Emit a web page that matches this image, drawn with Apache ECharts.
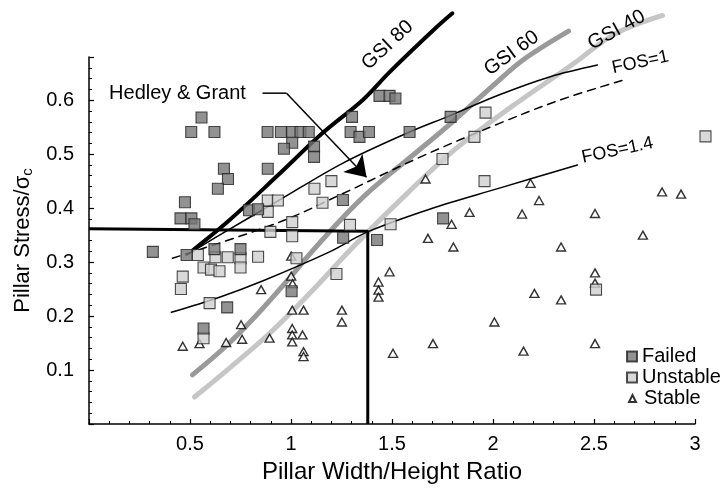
<!DOCTYPE html>
<html><head><meta charset="utf-8">
<script src="https://cdn.jsdelivr.net/npm/echarts/dist/echarts.min.js"></script>
<style>html,body{margin:0;padding:0;background:#fff}#c{width:725px;height:493px}</style>
</head><body><div id="c"></div>
<script>
// ---- data ----
const xTickValues = [0.5, 1, 1.5, 2, 2.5, 3];
const yTickValues = [0.1, 0.2, 0.3, 0.4, 0.5, 0.6];

const failed = [
  [0.316,0.319],[0.483,0.313],[0.621,0.324],[0.750,0.324],[0.475,0.411],[0.453,0.381],[0.507,0.381],[0.522,0.370],
  [0.557,0.568],[0.506,0.541],[0.621,0.541],[0.668,0.473],[0.688,0.454],[0.638,0.436],[0.884,0.541],[0.950,0.541],
  [1.006,0.541],[1.047,0.541],[1.088,0.541],[1.006,0.521],[0.965,0.510],[1.114,0.514],[1.114,0.495],[0.885,0.473],
  [0.792,0.396],[0.837,0.398],[1.257,0.415],[1.302,0.569],[1.295,0.541],[1.339,0.532],[1.386,0.541],[1.438,0.608],
  [1.488,0.608],[1.517,0.603],[1.587,0.541],[1.790,0.569],[1.258,0.345],[1.426,0.341],[1.753,0.381],[0.684,0.216],
  [0.567,0.177],[1.003,0.246]
];
const unstable = [
  [0.539,0.313],[0.626,0.309],[0.687,0.309],[0.750,0.307],[0.837,0.310],[0.567,0.290],[0.604,0.286],[0.646,0.283],
  [0.750,0.290],[0.464,0.273],[0.455,0.250],[0.597,0.224],[0.567,0.159],[0.885,0.414],[0.935,0.414],[0.885,0.393],
  [1.116,0.436],[1.200,0.450],[1.156,0.410],[1.006,0.374],[1.006,0.348],[0.898,0.356],[1.027,0.307],[1.225,0.278],
  [1.292,0.369],[1.493,0.370],[1.750,0.491],[1.963,0.577],[1.908,0.532],[1.958,0.450],[3.052,0.533],[2.510,0.249]
];
const stable = [
  [0.464,0.144],[0.547,0.149],[0.679,0.151],[0.753,0.184],[0.758,0.157],[0.894,0.159],[0.852,0.249],[1.001,0.311],
  [1.001,0.274],[1.008,0.260],[1.006,0.211],[1.062,0.211],[1.006,0.177],[1.006,0.165],[1.006,0.152],[1.057,0.165],
  [1.062,0.134],[1.062,0.125],[1.252,0.211],[1.252,0.189],[1.433,0.263],[1.433,0.248],[1.433,0.235],[1.488,0.282],
  [1.505,0.131],[1.666,0.454],[1.678,0.344],[1.795,0.370],[1.804,0.328],[1.884,0.392],[1.703,0.149],[2.007,0.189],
  [2.144,0.389],[2.186,0.446],[2.228,0.414],[2.151,0.135],[2.205,0.242],[2.337,0.328],[2.337,0.230],[2.505,0.390],
  [2.505,0.280],[2.505,0.261],[2.505,0.149],[2.742,0.350],[2.837,0.430],[2.931,0.426]
];

const gsi80 = [[0.514,0.322],[0.696,0.378],[0.927,0.458],[1.156,0.539],[1.354,0.600],[1.488,0.652],[1.720,0.735],[1.799,0.761]];
const gsi60 = [[0.512,0.091],[0.68,0.145],[0.83,0.202],[0.98,0.265],[1.10,0.318],[1.25,0.380],[1.40,0.435],[1.60,0.497],[1.80,0.560],[2.00,0.627],[2.15,0.675],[2.374,0.728]];
const gsi40 = [[0.522,0.050],[0.70,0.105],[0.90,0.170],[1.10,0.245],[1.30,0.325],[1.50,0.400],[1.80,0.505],[2.10,0.590],[2.40,0.668],[2.60,0.722],[2.839,0.757]];
const fos1 = [[0.483,0.313],[0.646,0.350],[0.943,0.415],[1.255,0.483],[1.587,0.541],[1.785,0.571],[2.032,0.610],[2.280,0.643],[2.517,0.665]];
const fosDashed = [[0.413,0.307],[0.943,0.374],[1.240,0.424],[1.636,0.494],[2.032,0.557],[2.329,0.600],[2.661,0.639]];
const fos14 = [[0.408,0.207],[0.646,0.235],[0.859,0.265],[1.191,0.319],[1.379,0.356],[1.686,0.398],[2.032,0.437],[2.418,0.480]];
const limitLine = [[0,0.362],[1.38,0.357],[1.38,0]];
const hedleyLeader = [[0.859,0.613],[0.978,0.613]];
const hedleyArrow = [[0.978,0.613],[1.374,0.457]];

const annotationTexts = ['GSI 80','GSI 60','GSI 40','FOS=1','FOS=1.4','Hedley & Grant'];
const annotationAnchors = [[1.478,0.702],[2.092,0.687],[2.612,0.730],[2.730,0.670],[2.616,0.507],[0.438,0.613]];
const annotationAngles = [43,36,29,12,12,0];
const annotationSizes = [20,20,20,18,18,20];

// ---- chart ----
const FONT = '"Liberation Sans", Arial, Helvetica, sans-serif';
const chart = echarts.init(document.getElementById('c'), null, {renderer:'canvas'});

function curve(name, data, color, width, type, z) {
  return {type:'line', name, data, smooth:0.35, showSymbol:false, symbol:'none', clip:false, z,
    lineStyle:{color, width, type: type || 'solid', cap:'round'}, silent:true, legendHoverLink:false};
}

const option = {
  animation:false,
  backgroundColor:'#fff',
  textStyle:{fontFamily:FONT, color:'#000'},
  grid:{left:89, right:30, top:57, bottom:69},
  xAxis:{type:'value', min:0, max:3, interval:0.5,
    name:'Pillar Width/Height Ratio', nameLocation:'middle', nameGap:36,
    nameTextStyle:{fontSize:24, color:'#000', fontFamily:FONT},
    axisLine:{show:true, lineStyle:{color:'#000', width:1.5}},
    axisTick:{show:true, inside:true, length:5, lineStyle:{color:'#000', width:1.2}},
    minorTick:{show:true, splitNumber:5, length:3, lineStyle:{color:'#000', width:1}},
    splitLine:{show:false}, minorSplitLine:{show:false},
    axisLabel:{fontSize:20, color:'#000', margin:10, fontFamily:FONT,
      formatter:v => xTickValues.some(t => Math.abs(t-v)<1e-6) ? String(+v.toFixed(1)) : ''}
  },
  yAxis:{type:'value', min:0, max:0.68, interval:0.1,
    name:'{a|Pillar Stress/σ}{b|c}', nameLocation:'middle', nameGap:52, nameRotate:90,
    nameTextStyle:{color:'#000', fontFamily:FONT,
      rich:{a:{fontSize:22, fontFamily:FONT, color:'#000'}, b:{fontSize:15, fontFamily:FONT, color:'#000', padding:[9,0,0,0]}}},
    axisLine:{show:true, lineStyle:{color:'#000', width:1.5}},
    axisTick:{show:true, inside:true, length:5, lineStyle:{color:'#000', width:1.2}},
    minorTick:{show:true, splitNumber:5, length:3, lineStyle:{color:'#000', width:1}},
    splitLine:{show:false}, minorSplitLine:{show:false},
    axisLabel:{fontSize:20, color:'#000', margin:15, fontFamily:FONT,
      formatter:v => yTickValues.some(t => Math.abs(t-v)<1e-6) ? v.toFixed(1) : ''}
  },
  legend:[
    {data:['Failed','Unstable'], orient:'vertical', left:626, top:346, itemWidth:10, itemHeight:10, itemGap:0,
      padding:0, selectedMode:false, textStyle:{fontSize:20, lineHeight:21, color:'#000', fontFamily:FONT}},
    {data:['Stable'], orient:'vertical', left:628, top:388, itemWidth:7, itemHeight:7, itemGap:0,
      padding:0, selectedMode:false, textStyle:{fontSize:20, lineHeight:21, color:'#000', fontFamily:FONT, padding:[0,0,0,3]}}
  ],
  series:[
    curve('GSI 40', gsi40, '#c6c6c6', 5, 'solid', 2),
    curve('GSI 60', gsi60, '#9a9a9a', 5, 'solid', 3),
    curve('FOS=1.4', fos14, '#000', 1.5, 'solid', 4),
    curve('FOS=1', fos1, '#000', 1.5, 'solid', 4),
    curve('FOS dashed', fosDashed, '#000', 1.5, [8,6], 4),
    curve('GSI 80', gsi80, '#000', 4, 'solid', 5),
    {type:'line', name:'limit', data:limitLine, showSymbol:false, symbol:'none', smooth:false, clip:false, z:6,
      lineStyle:{color:'#000', width:3}, silent:true},
    {type:'line', name:'leader', data:hedleyLeader, showSymbol:false, symbol:'none', smooth:false, clip:false, z:7,
      lineStyle:{color:'#000', width:1.5}, silent:true},
    {type:'lines', name:'pointer', coordinateSystem:'cartesian2d', z:7,
      symbol:['none','arrow'], symbolSize:[1,20],
      lineStyle:{color:'#000', width:1.5, opacity:1}, itemStyle:{color:'#000'},
      data:[{coords:hedleyArrow}], silent:true},
    {type:'scatter', name:'Stable', data:stable, symbol:'triangle', symbolSize:[9,8], z:8, clip:false,
      itemStyle:{color:'#fff', borderColor:'#000', borderWidth:1.4}},
    {type:'scatter', name:'Unstable', data:unstable, symbol:'rect', symbolSize:11, z:9, clip:false,
      itemStyle:{color:'#d0d0d0', borderColor:'#222', borderWidth:1.1}},
    {type:'scatter', name:'Failed', data:failed, symbol:'rect', symbolSize:11, z:9, clip:false,
      itemStyle:{color:'#777', borderColor:'#222', borderWidth:1.1}},
    {type:'scatter', name:'annotations', clip:false, z:10, silent:true, symbol:'circle', symbolSize:0,
      itemStyle:{color:'#000', opacity:1},
      data: annotationTexts.map((t,i) => ({name:t, value:annotationAnchors[i],
        label:{show:true, position:'inside', formatter:t, rotate:annotationAngles[i], fontSize:annotationSizes[i],
          color:'#000', opacity:1, textBorderWidth:0, textBorderColor:'transparent', fontFamily:FONT}}))}
  ]
};
chart.setOption(option);
</script>
</body></html>
